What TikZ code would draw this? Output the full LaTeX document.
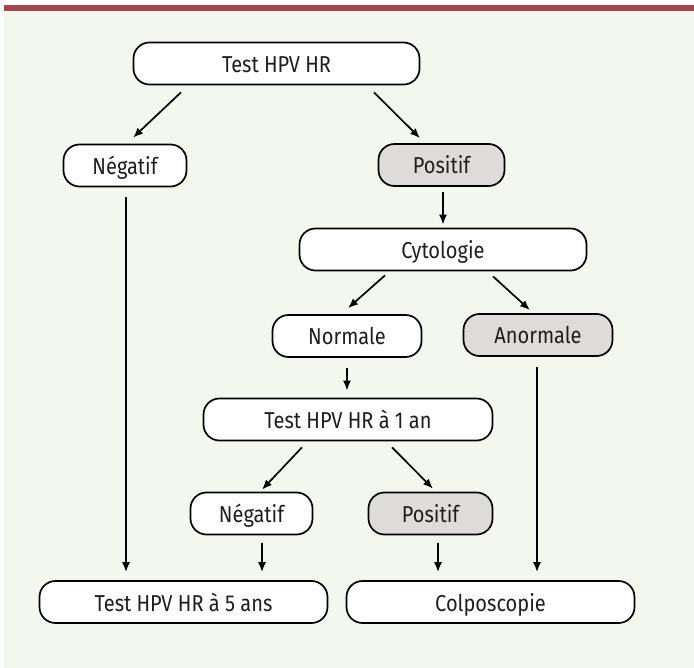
\documentclass[tikz,border=0pt]{standalone}
\usepackage{fontspec}
\setmainfont[FakeStretch=0.87]{Fira Sans}
\usepackage{xcolor}
\usepackage{tikz}
\usetikzlibrary{arrows.meta, calc}
\definecolor{bandred}{HTML}{A3474F}
\definecolor{panel}{HTML}{F4F7EE}
\definecolor{shade}{HTML}{DEDCDA}
\definecolor{ink}{HTML}{1E1E1E}
\tikzstyle{outcome} = [rectangle, draw, line width=1.7pt, fill=white, rounded corners=16pt, minimum height=42pt, inner sep=0pt, text height=18pt, text depth=0pt, text=ink, font=\fontsize{23}{23}\selectfont]
\tikzstyle{flagged} = [outcome, fill=shade]
\tikzstyle{arrow} = [draw, -{Latex[length=10pt,width=8pt]}, line width=1.7pt]

\begin{document}
\begin{tikzpicture}[x=1pt, y=-1pt]
    % Panel
    \fill[white] (0,0) rectangle (694,668);
    \fill[panel] (4,11) rectangle (694,668);
    \fill[bandred] (4,5) rectangle (694,11);
    \useasboundingbox (0,0) rectangle (694,668);

    \node (test) [outcome, minimum width=286pt] at (276.5,63.5) {Test HPV HR};
    \node (neg) [outcome, minimum width=123pt] at (125,165.5) {Négatif};
    \node (pos) [flagged, minimum width=126pt] at (441.5,165) {Positif};
    \node (cyto) [outcome, minimum width=287pt] at (443,249.5) {Cytologie};
    \node (normal) [outcome, minimum width=149pt] at (347,336) {Normale};
    \node (abnormal) [flagged, minimum width=149pt] at (538,335) {Anormale};
    \node (retest) [outcome, minimum width=289pt] at (348,419.5) {Test HPV HR à 1 an};
    \node (retestneg) [outcome, minimum width=122pt] at (251.5,513.5) {Négatif};
    \node (retestpos) [flagged, minimum width=124pt] at (430.5,513.5) {Positif};
    \node (fiveyear) [outcome, minimum width=288pt] at (183.5,602) {Test HPV HR à 5 ans};
    \node (colpo) [outcome, minimum width=288pt] at (490.5,602) {Colposcopie};

    % First test
    \draw [arrow] ([xshift=-95.5pt,yshift=-7pt]test.south) -- ([xshift=8pt,yshift=6pt]neg.north);
    \draw [arrow] ([xshift=97.5pt,yshift=-7pt]test.south) -- ([xshift=-21.5pt,yshift=5pt]pos.north);
    \draw [arrow] ([xshift=1.5pt,yshift=-5pt]pos.south) -- ([yshift=3pt]cyto.north);

    % Cytology
    \draw [arrow] ([xshift=-58pt,yshift=-4pt]cyto.south) -- ([xshift=1pt,yshift=6pt]normal.north);
    \draw [arrow] ([xshift=50pt,yshift=-5pt]cyto.south) -- ([xshift=-8pt,yshift=3pt]abnormal.north);
    \draw [arrow] ([yshift=-10pt]normal.south) -- ([xshift=-1pt,yshift=7pt]retest.north);

    % Test at one year
    \draw [arrow] ([xshift=-46pt,yshift=-6pt]retest.south) -- ([xshift=10.5pt,yshift=2pt]retestneg.north);
    \draw [arrow] ([xshift=44pt,yshift=-6pt]retest.south) -- ([xshift=2.5pt,yshift=3pt]retestpos.north);

    % Final steps
    \draw [arrow] ([xshift=1pt,yshift=-10pt]neg.south) -- ([xshift=-57.5pt,yshift=8pt]fiveyear.north);
    \draw [arrow] ([xshift=10.5pt,yshift=-8pt]retestneg.south) -- ([xshift=78.5pt,yshift=8pt]fiveyear.north);
    \draw [arrow] ([xshift=7.5pt,yshift=-8pt]retestpos.south) -- ([xshift=-52.5pt,yshift=8pt]colpo.north);
    \draw [arrow] ([xshift=-1pt,yshift=-10pt]abnormal.south) -- ([xshift=46.5pt,yshift=8pt]colpo.north);
\end{tikzpicture}
\end{document}
